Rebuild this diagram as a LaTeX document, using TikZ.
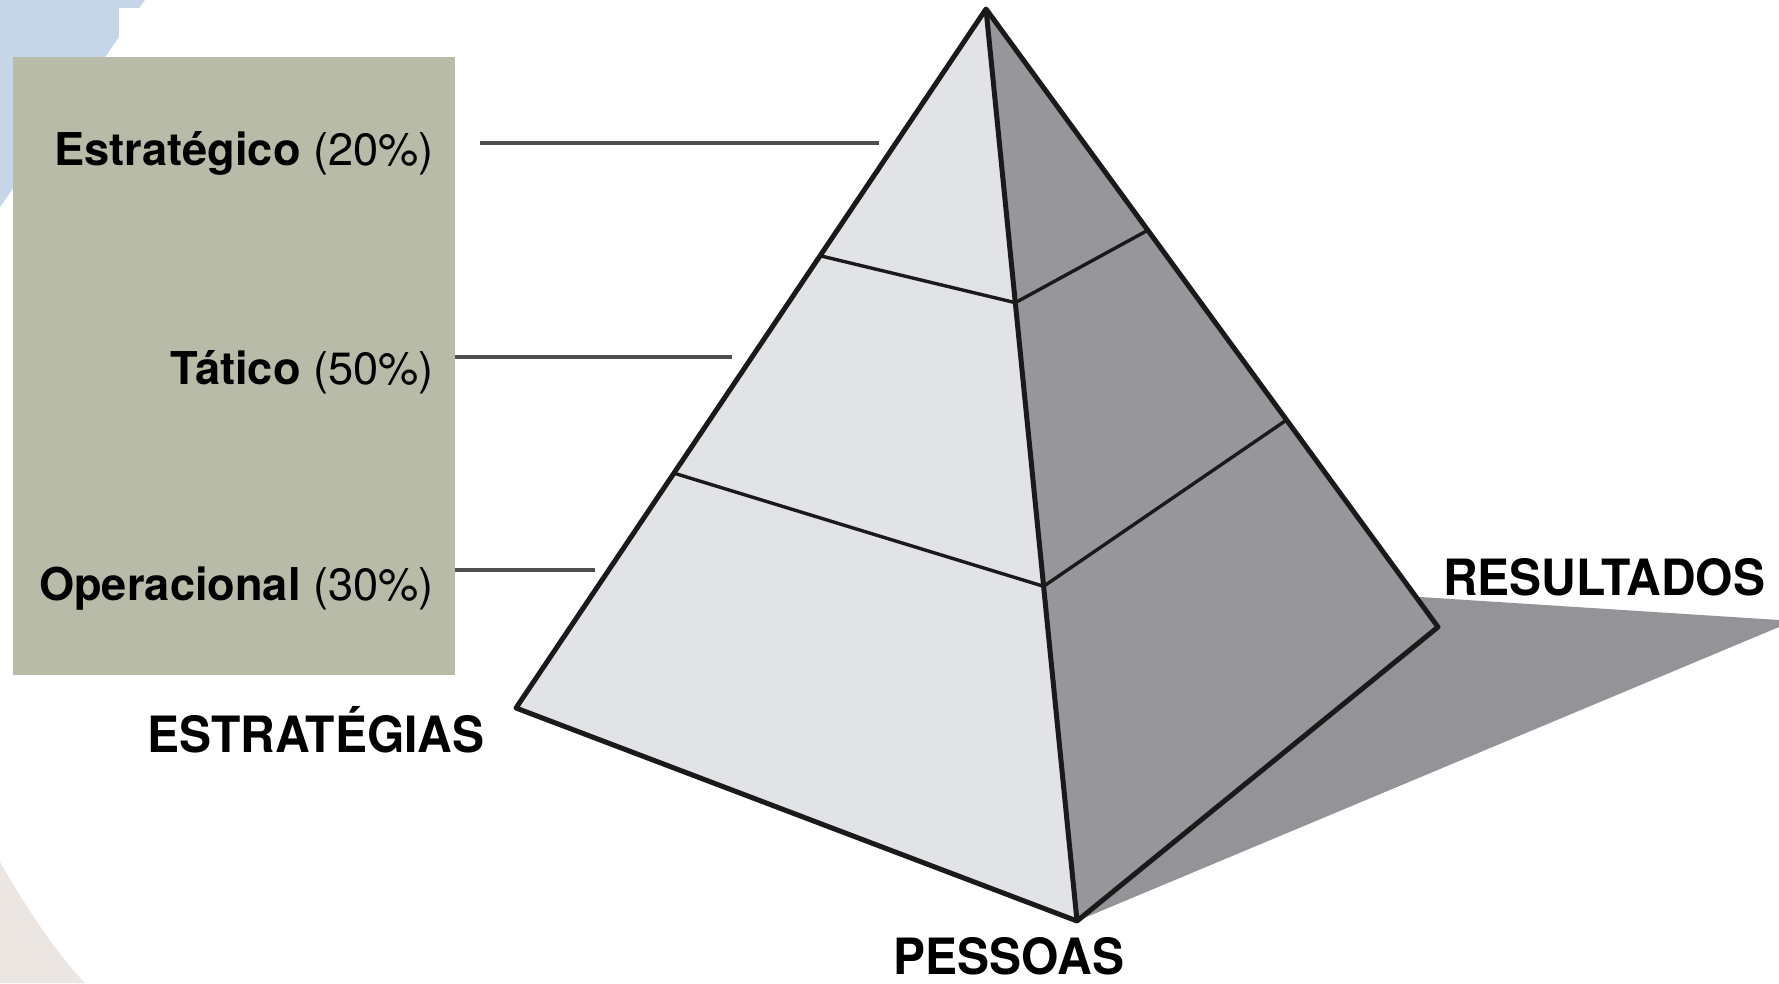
\documentclass[tikz,border=0pt]{standalone}
\usepackage{fontspec}
\setmainfont{TeX Gyre Heros}
\newfontfamily\condfont[FakeStretch=0.96]{TeX Gyre Heros}
\usetikzlibrary{calc}
\definecolor{bgblue}{HTML}{C6D6E9}
\definecolor{bgbeige}{HTML}{EBE6E2}
\definecolor{boxgreen}{HTML}{B8BBA8}
\definecolor{faceleft}{HTML}{E2E3E6}
\definecolor{faceright}{HTML}{97969B}
\definecolor{shadowgray}{HTML}{949398}
\definecolor{leadergray}{HTML}{4E4E4E}
\definecolor{edgeblack}{HTML}{1A1A1A}
\tikzset{
  levellabel/.style={anchor=base east, inner sep=0pt, font=\fontsize{45.2}{50}\selectfont},
  cornerlabel/.style={anchor=base, inner sep=0pt, font=\condfont\bfseries\fontsize{50}{56}\selectfont},
  leader/.style={draw=leadergray, line width=3.6pt},
  outline/.style={draw=edgeblack, line width=5pt, line join=round},
  divider/.style={draw=edgeblack, line width=3.4pt},
}
\begin{document}
\begin{tikzpicture}[x=1pt,y=-1pt]
\useasboundingbox (0,0) rectangle (1779,983);
% background decorations
\fill[bgblue] (0,0) -- (145,0) -- (0,207) -- cycle;
\fill[white] (119,8) rectangle (480,57);
\fill[bgbeige] (0,862) .. controls (25,905) and (52,948) .. (85,983) -- (0,983) -- cycle;
% label box
\fill[boxgreen] (13,57) rectangle (455,675);
% pyramid coordinates
\coordinate (A) at (986,9);
\coordinate (L) at (516,708);
\coordinate (F) at (1077,921);
\coordinate (R) at (1438,627);
\coordinate (L1) at ($(A)!0.353!(L)$);
\coordinate (F1) at ($(A)!0.322!(F)$);
\coordinate (R1) at ($(A)!0.358!(R)$);
\coordinate (L2) at ($(A)!0.664!(L)$);
\coordinate (F2) at ($(A)!0.633!(F)$);
\coordinate (R2) at ($(A)!0.665!(R)$);
% shadow
\coordinate (S1) at (1420,597);
\coordinate (S2) at (1779,620);
\coordinate (S3) at (1779,627);
\fill[shadowgray] (F) -- (S1) -- (S2) -- (S3) -- cycle;
% faces
\fill[faceleft] (A) -- (L) -- (F) -- cycle;
\fill[faceright] (A) -- (F) -- (R) -- cycle;
% dividers
\draw[divider] (L1) -- (F1) -- (R1);
\draw[divider] (L2) -- (F2) -- (R2);
% outline
\draw[outline] (A) -- (L) -- (F) -- (R) -- cycle;
\draw[outline] (A) -- (F);
% level labels
\node[levellabel] (est) at (434,165) {\textbf{Estratégico} (20\%)};
\node[levellabel] (tat) at (434,384) {\textbf{Tático} (50\%)};
\node[levellabel] (ope) at (434,600) {\textbf{Operacional} (30\%)};
% leader lines
\coordinate (e0) at (480,143);
\coordinate (e1) at (879,143);
\coordinate (t0) at (455,357);
\coordinate (t1) at (732,357);
\coordinate (o0) at (455,570);
\coordinate (o1) at (595,570);
\draw[leader] (e0) -- (e1);
\draw[leader] (t0) -- (t1);
\draw[leader] (o0) -- (o1);
% corner labels
\node[cornerlabel] (estr) at (316,752) {ESTRATÉGIAS};
\node[cornerlabel] (res) at (1604,595) {RESULTADOS};
\node[cornerlabel] (pes) at (1009,974) {PESSOAS};
\end{tikzpicture}
\end{document}
